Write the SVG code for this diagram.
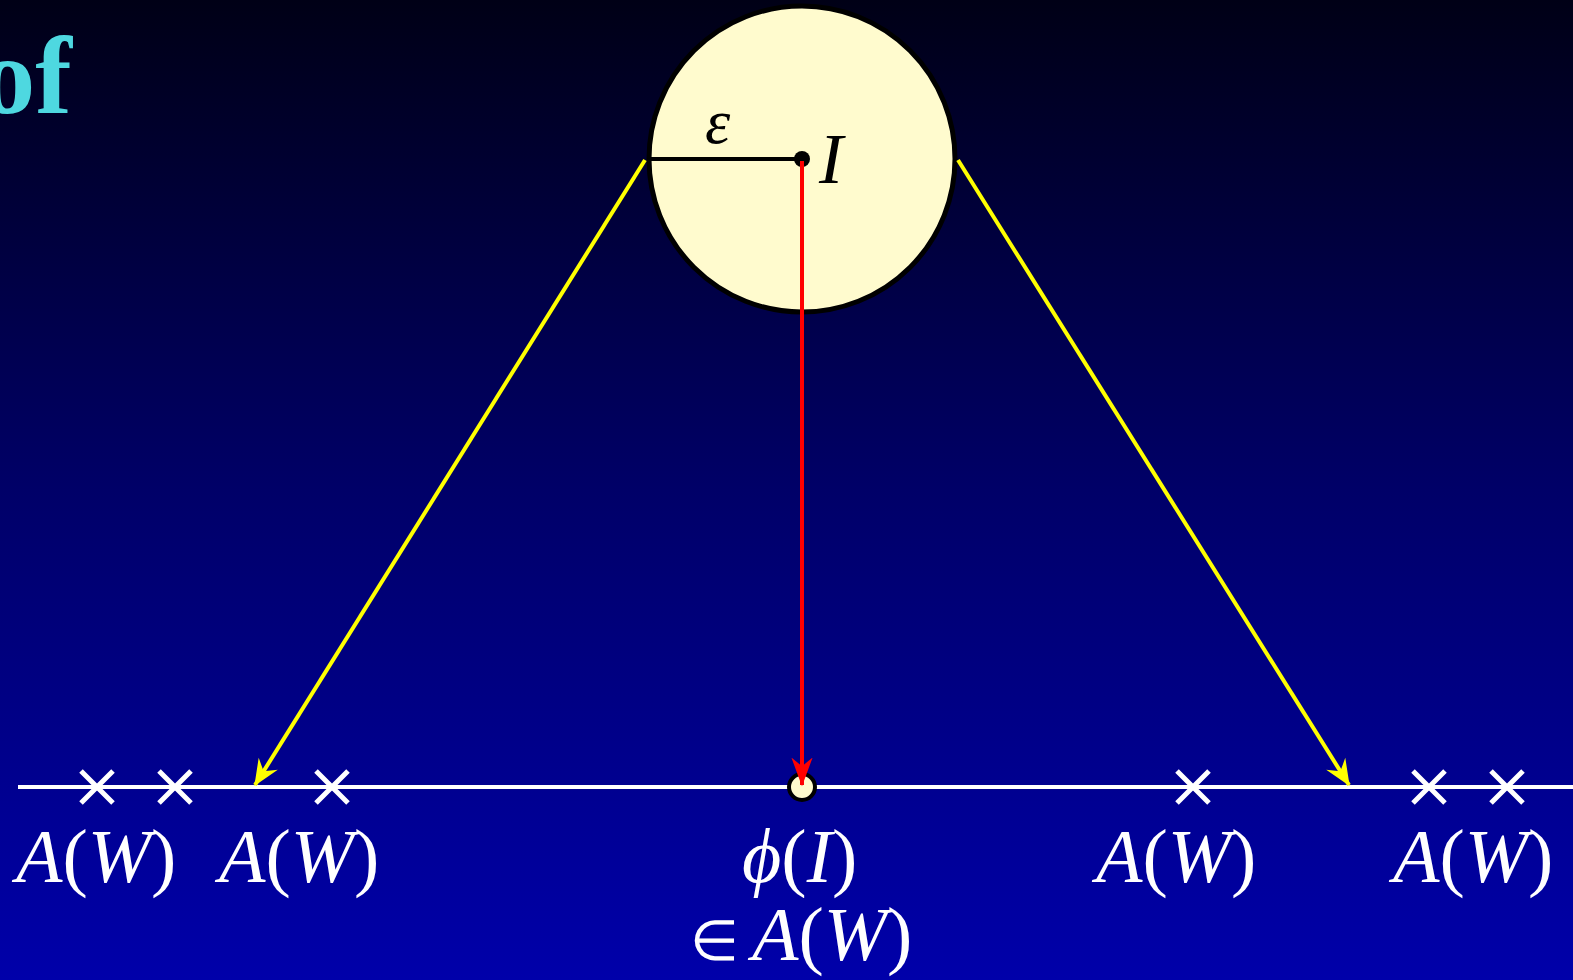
<svg xmlns="http://www.w3.org/2000/svg" width="1573" height="980" viewBox="0 0 1573 980">
<defs>
<linearGradient id="bg" x1="0" y1="0" x2="0" y2="1">
<stop offset="0" stop-color="#000016"/>
<stop offset="0.5" stop-color="#000068"/>
<stop offset="1" stop-color="#0000aa"/>
</linearGradient>
<marker id="ay" markerUnits="userSpaceOnUse" markerWidth="30" markerHeight="30" viewBox="-22 -11 24 22" refX="0" refY="0" orient="auto">
<path d="M1,0 L-20,-9 L-13,0 L-20,9 Z" fill="#ffff00"/>
</marker>
<marker id="ar" markerUnits="userSpaceOnUse" markerWidth="30" markerHeight="30" viewBox="-22 -11 24 22" refX="0" refY="0" orient="auto">
<path d="M1,0 L-22,-8.5 L-15,0 L-22,8.5 Z" fill="#ff0000"/>
</marker>
<style>
.m{font-family:"Liberation Serif","Times New Roman",serif;fill:#ffffff;font-size:76px}
.i{font-style:italic}
.x{stroke:#ffffff;stroke-width:5;fill:none}
</style>
</defs>
<rect x="0" y="0" width="1573" height="980" fill="url(#bg)"/>
<text x="72" y="113" text-anchor="end" font-family="Liberation Serif, Times New Roman, serif" font-weight="bold" font-size="110" fill="#4ed8e0">of</text>

<g id="axis">
<line x1="18" y1="787" x2="1573" y2="787" stroke="#ffffff" stroke-width="4"/>
</g>
<g id="crosses">
<path class="x" d="M81,771 L113,803 M81,803 L113,771"/>
<path class="x" d="M159,771 L191,803 M159,803 L191,771"/>
<path class="x" d="M316,771 L348,803 M316,803 L348,771"/>
<path class="x" d="M1177,771 L1209,803 M1177,803 L1209,771"/>
<path class="x" d="M1413,771 L1445,803 M1413,803 L1445,771"/>
<path class="x" d="M1491,771 L1523,803 M1491,803 L1523,771"/>
</g>

<g id="ball">
<circle cx="802" cy="159" r="153" fill="#fffbce" stroke="#000000" stroke-width="5"/>
<line x1="648" y1="159" x2="802" y2="159" stroke="#000000" stroke-width="4"/>
<circle cx="802" cy="159" r="8" fill="#000000"/>
<text x="705" y="143" font-family="Liberation Serif, Times New Roman, serif" font-style="italic" font-size="64" fill="#000000">ε</text>
<text x="819" y="183" font-family="Liberation Serif, Times New Roman, serif" font-style="italic" font-size="72" fill="#000000">I</text>
</g>

<g id="image-point">
<circle cx="802" cy="787" r="13" fill="#fffbce" stroke="#000000" stroke-width="4"/>
</g>

<g id="connectors" fill="none">
<line x1="645" y1="160" x2="255" y2="785" stroke="#ffff00" stroke-width="4" marker-end="url(#ay)"/>
<line x1="958" y1="160" x2="1349" y2="785" stroke="#ffff00" stroke-width="4" marker-end="url(#ay)"/>
<line x1="802" y1="161" x2="802" y2="785" stroke="#ff0000" stroke-width="4" marker-end="url(#ar)"/>
</g>

<g id="labels">
<text class="m" x="16" y="882"><tspan class="i">A</tspan>(<tspan class="i">W</tspan>)</text>
<text class="m" x="219" y="882"><tspan class="i">A</tspan>(<tspan class="i">W</tspan>)</text>
<text class="m" x="1096" y="882"><tspan class="i">A</tspan>(<tspan class="i">W</tspan>)</text>
<text class="m" x="1393" y="882"><tspan class="i">A</tspan>(<tspan class="i">W</tspan>)</text>
<text class="m" x="742" y="882"><tspan class="i">ϕ</tspan>(<tspan class="i">I</tspan>)</text>
<text class="m" x="690" y="960"><tspan font-size="56">∈</tspan><tspan class="i" x="752">A</tspan>(<tspan class="i">W</tspan>)</text>
</g>
</svg>
